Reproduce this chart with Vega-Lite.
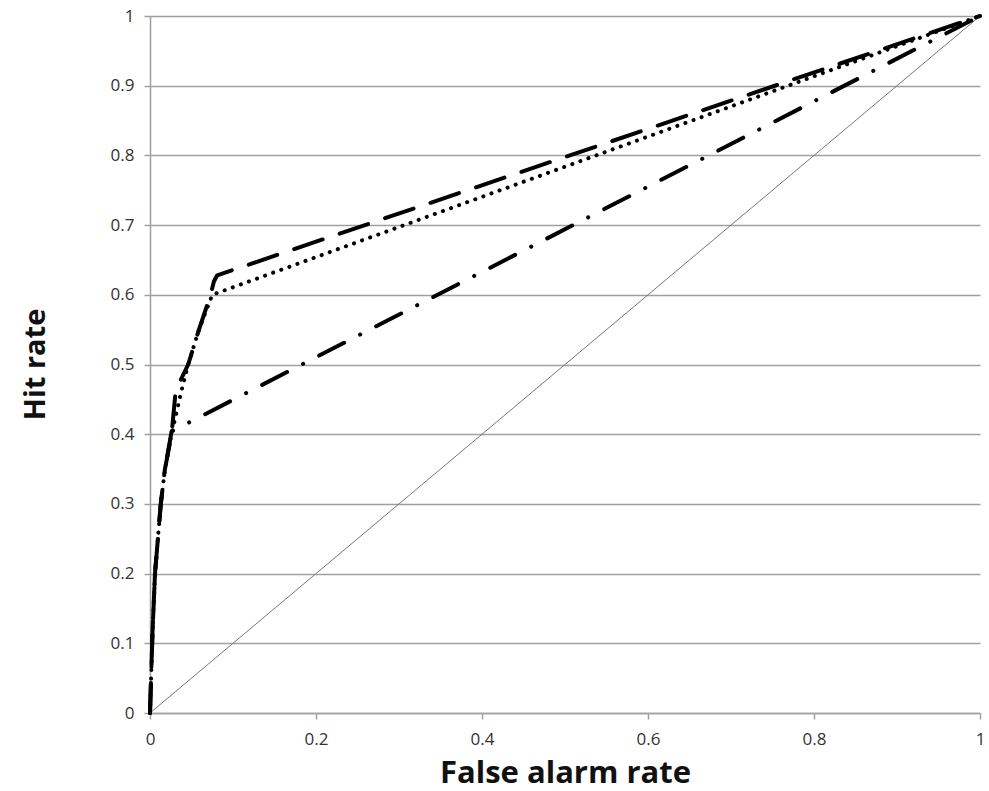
{
  "$schema": "https://vega.github.io/schema/vega-lite/v6.json",
  "width": 830,
  "height": 697,
  "autosize": "none",
  "padding": {"left": 150, "top": 16, "right": 9, "bottom": 78},
  "background": "white",
  "config": {"view": {"stroke": null}},
  "data": {"values": [
    {"s": "diag", "o": 0, "x": 0, "y": 0},
    {"s": "diag", "o": 1, "x": 1, "y": 1},
    {"s": "dashed", "o": 0, "x": 0, "y": 0},
    {"s": "dashed", "o": 1, "x": 0.003, "y": 0.115},
    {"s": "dashed", "o": 2, "x": 0.006, "y": 0.2},
    {"s": "dashed", "o": 3, "x": 0.013, "y": 0.3},
    {"s": "dashed", "o": 4, "x": 0.018, "y": 0.35},
    {"s": "dashed", "o": 5, "x": 0.026, "y": 0.4},
    {"s": "dashed", "o": 6, "x": 0.031, "y": 0.463},
    {"s": "dashed", "o": 7, "x": 0.046, "y": 0.5},
    {"s": "dashed", "o": 8, "x": 0.059, "y": 0.55},
    {"s": "dashed", "o": 9, "x": 0.073, "y": 0.6},
    {"s": "dashed", "o": 10, "x": 0.077, "y": 0.619},
    {"s": "dashed", "o": 11, "x": 0.081, "y": 0.628},
    {"s": "dashed", "o": 12, "x": 1, "y": 1},
    {"s": "dotted", "o": 0, "x": 0, "y": 0},
    {"s": "dotted", "o": 1, "x": 0.003, "y": 0.115},
    {"s": "dotted", "o": 2, "x": 0.006, "y": 0.2},
    {"s": "dotted", "o": 3, "x": 0.013, "y": 0.3},
    {"s": "dotted", "o": 4, "x": 0.018, "y": 0.35},
    {"s": "dotted", "o": 5, "x": 0.026, "y": 0.4},
    {"s": "dotted", "o": 6, "x": 0.038, "y": 0.463},
    {"s": "dotted", "o": 7, "x": 0.046, "y": 0.5},
    {"s": "dotted", "o": 8, "x": 0.059, "y": 0.55},
    {"s": "dotted", "o": 9, "x": 0.075, "y": 0.6},
    {"s": "dotted", "o": 10, "x": 1, "y": 1},
    {"s": "dashdot", "o": 0, "x": 0, "y": 0},
    {"s": "dashdot", "o": 1, "x": 0.003, "y": 0.115},
    {"s": "dashdot", "o": 2, "x": 0.006, "y": 0.2},
    {"s": "dashdot", "o": 3, "x": 0.013, "y": 0.3},
    {"s": "dashdot", "o": 4, "x": 0.018, "y": 0.35},
    {"s": "dashdot", "o": 5, "x": 0.026, "y": 0.404},
    {"s": "dashdot", "o": 6, "x": 1, "y": 1}
  ]},
  "layer": [
    {
      "transform": [{"filter": "datum.s === 'diag'"}],
      "mark": {"type": "line", "color": "#777777", "strokeWidth": 1},
      "encoding": {
        "x": {"field": "x", "type": "quantitative", "scale": {"domain": [0, 1], "nice": false},
          "axis": {"title": "False alarm rate", "values": [0, 0.2, 0.4, 0.6, 0.8, 1], "format": "~g", "grid": false,
            "domainColor": "#a0a0a0", "domainWidth": 1.5, "tickColor": "#a0a0a0", "tickWidth": 1.5, "tickSize": 6,
            "labelFont": "Open Sans", "labelFontSize": 17, "labelColor": "#333333", "labelPadding": 12,
            "labelFlush": false, "labelOverlap": false,
            "titleFont": "Open Sans", "titleFontSize": 31, "titleFontWeight": "bold", "titleColor": "#111111",
            "titleY": 60, "titleBaseline": "middle"}},
        "y": {"field": "y", "type": "quantitative", "scale": {"domain": [0, 1], "nice": false},
          "axis": {"title": "Hit rate", "values": [0, 0.1, 0.2, 0.3, 0.4, 0.5, 0.6, 0.7, 0.8, 0.9, 1], "format": "~g", "grid": true,
            "gridColor": "#a0a0a0", "gridWidth": 1.5,
            "domainColor": "#a0a0a0", "domainWidth": 1.5, "tickColor": "#a0a0a0", "tickWidth": 1.5, "tickSize": 6,
            "labelFont": "Open Sans", "labelFontSize": 17, "labelColor": "#333333", "labelPadding": 10,
            "labelFlush": false, "labelOverlap": false,
            "titleFont": "Open Sans", "titleFontSize": 29, "titleFontWeight": "bold", "titleColor": "#111111",
            "titleX": -115, "titleY": 348, "titleBaseline": "middle", "titleAlign": "center", "titleAngle": -90}},
        "order": {"field": "o", "type": "quantitative"}
      }
    },
    {
      "transform": [{"filter": "datum.s !== 'diag'"}],
      "mark": {"type": "line", "color": "black", "strokeWidth": 4, "strokeCap": "round", "strokeJoin": "round"},
      "encoding": {
        "x": {"field": "x", "type": "quantitative"},
        "y": {"field": "y", "type": "quantitative"},
        "strokeDash": {"field": "s", "type": "nominal", "legend": null,
          "scale": {"domain": ["dashed", "dotted", "dashdot"], "range": [[30, 18], [0.1, 8.5], [28, 18, 0.1, 18]]}},
        "order": {"field": "o", "type": "quantitative"}
      }
    }
  ]
}
